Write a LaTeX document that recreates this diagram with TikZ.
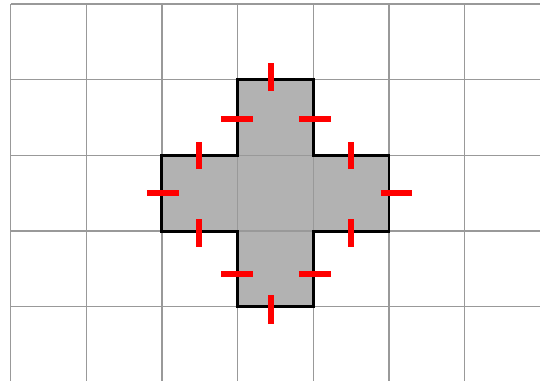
\documentclass[tikz,border=0pt]{standalone}
\usepackage{tikz}
\usetikzlibrary{calc}

\begin{document}
\begin{tikzpicture}[
    gridline/.style={draw=black!40, line width=0.5pt},
    shapefill/.style={fill=black!30, draw=none},
    outline/.style={draw=black, line width=1.1pt, line join=miter},
    tick/.style={draw=red, line width=2.2pt}
]

\clip (-0.139,0.02) rectangle (6.995,5.053);

% shape and grid
\fill[shapefill] (3,4) -- (4,4) -- (4,3) -- (5,3) -- (5,2) -- (4,2) -- (4,1) -- (3,1) -- (3,2) -- (2,2) -- (2,3) -- (3,3) -- cycle;
\draw[gridline] (0,0) grid (7,5);
\draw[outline] (3,4) -- (4,4) -- (4,3) -- (5,3) -- (5,2) -- (4,2) -- (4,1) -- (3,1) -- (3,2) -- (2,2) -- (2,3) -- (3,3) -- cycle;

% top cell
\draw[tick] (3.44,3.85) -- (3.44,4.22);
\draw[tick] (2.78,3.48) -- (3.20,3.48);
\draw[tick] (3.81,3.48) -- (4.23,3.48);

% left cell
\draw[tick] (2.49,2.82) -- (2.49,3.18);
\draw[tick] (1.80,2.50) -- (2.23,2.50);
\draw[tick] (2.49,1.79) -- (2.49,2.16);

% right cell
\draw[tick] (4.50,2.82) -- (4.50,3.18);
\draw[tick] (4.89,2.50) -- (5.31,2.50);
\draw[tick] (4.50,1.79) -- (4.50,2.16);

% bottom cell
\draw[tick] (2.78,1.43) -- (3.20,1.43);
\draw[tick] (3.81,1.43) -- (4.23,1.43);
\draw[tick] (3.44,0.77) -- (3.44,1.16);

\end{tikzpicture}
\end{document}
